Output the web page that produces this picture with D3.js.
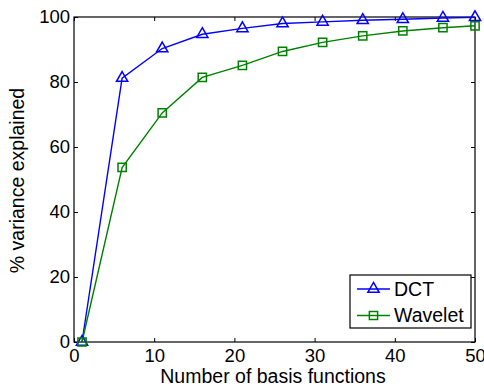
<!DOCTYPE html>
<html><head><meta charset="utf-8">
<script src="https://cdn.jsdelivr.net/npm/d3@7"></script>
<style>body{margin:0;background:#fff}svg{display:block}text{font-family:"Liberation Sans",Arial,sans-serif;fill:#000}</style>
</head><body><svg id="c" width="484" height="387"></svg>
<script>
const basisCounts = [1, 6, 11, 16, 21, 26, 31, 36, 41, 46, 50];
const dctValues = [0, 81.2, 90.3, 94.7, 96.5, 98.0, 98.5, 99.0, 99.3, 99.7, 99.9];
const waveletValues = [0, 53.7, 70.5, 81.4, 85.1, 89.4, 92.2, 94.2, 95.7, 96.7, 97.3];
const seriesNames = ["DCT", "Wavelet"];
const xTicks = [0, 10, 20, 30, 40, 50];
const yTicks = [0, 20, 40, 60, 80, 100];

const svg = d3.select("#c");
const L = 74, R = 475, T = 17, B = 342;
const x = d3.scaleLinear().domain([0, 50]).range([L, R]);
const y = d3.scaleLinear().domain([0, 100]).range([B, T]);

const g = svg.append("g");
const xAx = d3.axisBottom(x).tickValues(xTicks).tickSize(-4).tickPadding(7).tickFormat(d3.format("d"));
const xTop = d3.axisTop(x).tickValues(xTicks).tickSize(-4).tickFormat("");
const yAx = d3.axisLeft(y).tickValues(yTicks).tickSize(-4).tickPadding(4).tickFormat(d3.format("d"));
const yR = d3.axisRight(y).tickValues(yTicks).tickSize(-4).tickFormat("");
function style(sel){ sel.select(".domain").remove(); sel.selectAll("line").attr("stroke","#000"); sel.selectAll("text").style("font-size","18.5px").style("font-family","'Liberation Sans',Arial,sans-serif"); }
g.append("g").attr("transform",`translate(0,${B})`).call(xAx).call(style);
g.append("g").attr("transform",`translate(0,${T})`).call(xTop).call(style);
g.append("g").attr("transform",`translate(${L},0)`).call(yAx).call(style);
g.append("g").attr("transform",`translate(${R},0)`).call(yR).call(style);
svg.append("rect").attr("x",L).attr("y",T).attr("width",R-L).attr("height",B-T).attr("fill","none").attr("stroke","#000").attr("stroke-width",1.2);

const colors = ["#0000ff", "#008000"];
const data = [dctValues, waveletValues];
const line = d3.line().x((d,i)=>x(basisCounts[i])).y(d=>y(d));
const tri = d3.symbol().type(d3.symbolTriangle).size(55);
const sq = d3.symbol().type(d3.symbolSquare).size(68);

data.forEach((vals, k) => {
  svg.append("path").datum(vals).attr("d", line).attr("fill","none").attr("stroke",colors[k]).attr("stroke-width",1.4);
});
data.forEach((vals, k) => {
  svg.selectAll(null).data(vals).enter().append("path")
    .attr("d", k===0 ? tri : sq)
    .attr("transform",(d,i)=>`translate(${x(basisCounts[i])},${y(d)})`)
    .attr("fill","none").attr("stroke",colors[k]).attr("stroke-width",1.5);
});

svg.append("text").attr("x",273).attr("y",383).attr("text-anchor","middle").style("font-size","19.5px").text("Number of basis functions");
svg.append("text").attr("transform",`translate(24,${(T+B)/2+1}) rotate(-90)`).attr("text-anchor","middle").style("font-size","19.5px").text("% variance explained");

const lg = svg.append("g");
lg.append("rect").attr("x",350).attr("y",275).attr("width",121).attr("height",53).attr("fill","#fff").attr("stroke","#000").attr("stroke-width",1.2);
seriesNames.forEach((n,k)=>{
  const yy = 289 + k*26.5;
  lg.append("line").attr("x1",357).attr("x2",390).attr("y1",yy).attr("y2",yy).attr("stroke",colors[k]).attr("stroke-width",1.4);
  lg.append("path").attr("d", k===0 ? tri : sq).attr("transform",`translate(373.5,${yy})`).attr("fill","none").attr("stroke",colors[k]).attr("stroke-width",1.5);
  lg.append("text").attr("x",394).attr("y",yy+6.7).style("font-size","19.5px").text(n);
});
</script></body></html>
